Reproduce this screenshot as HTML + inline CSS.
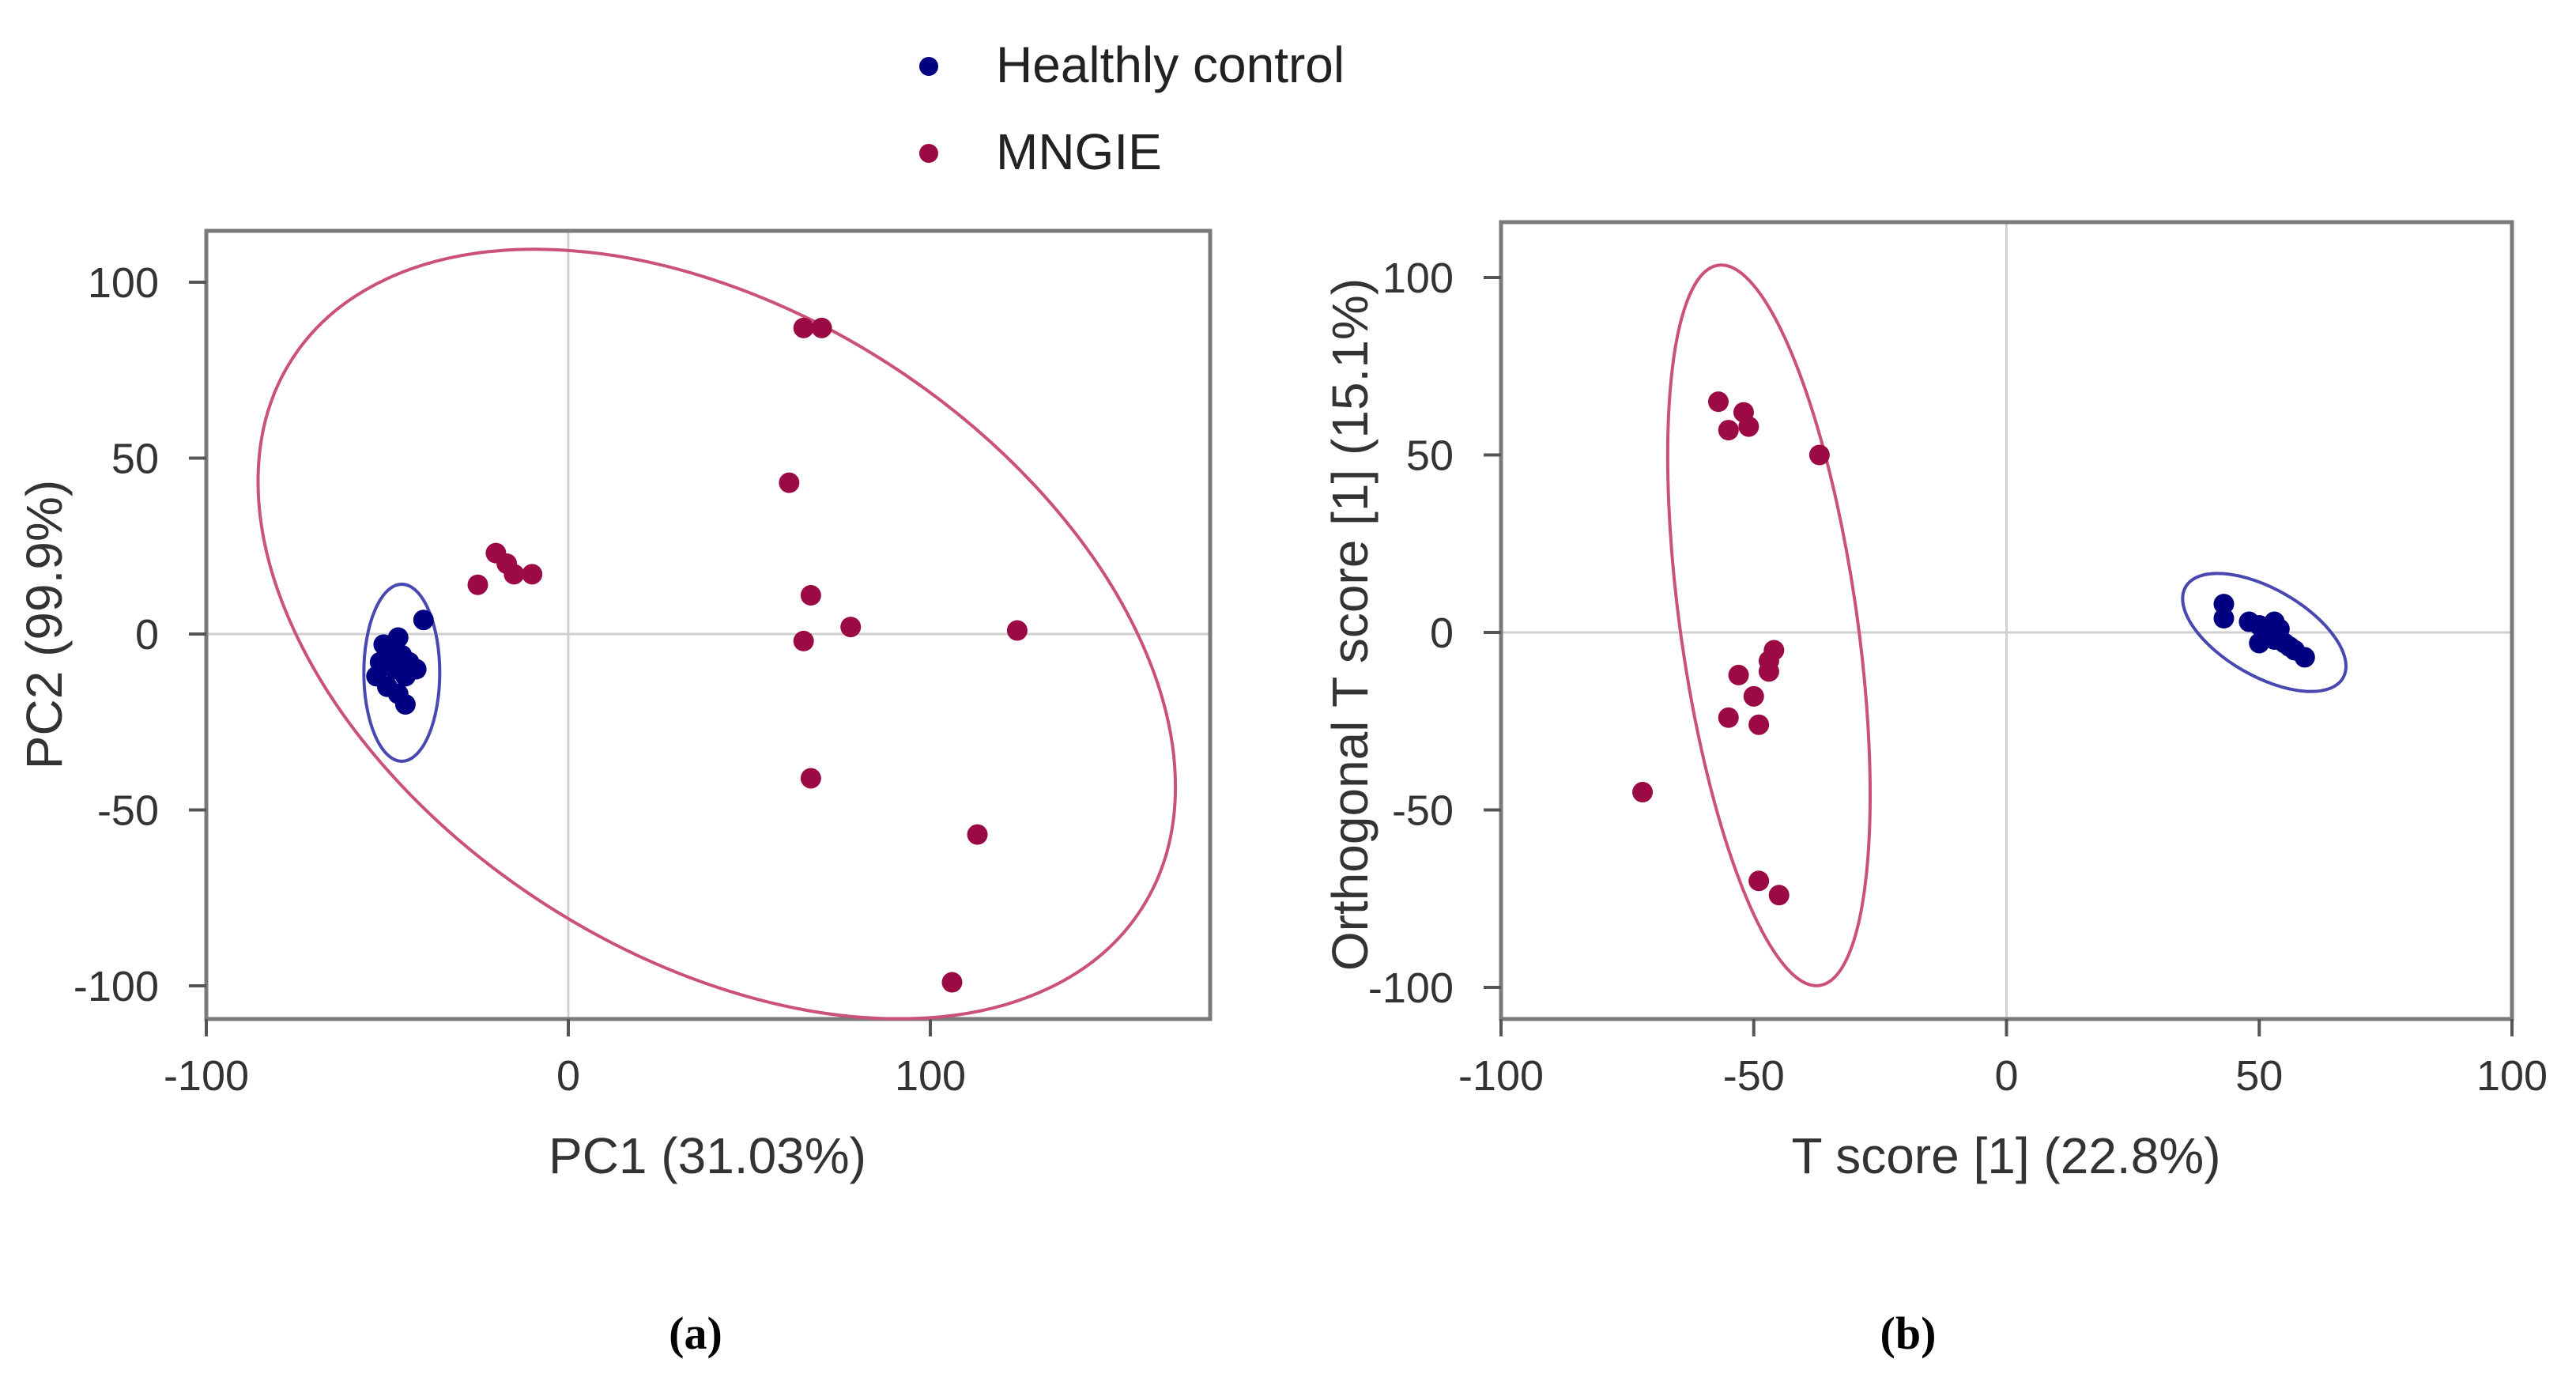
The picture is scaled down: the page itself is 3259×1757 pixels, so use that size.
<!DOCTYPE html>
<html><head><meta charset="utf-8">
<style>
html,body{margin:0;padding:0;background:#fff;}
svg{display:block;font-family:"Liberation Sans",Arial,sans-serif;}
</style></head>
<body>
<svg id="fig" width="3259" height="1757" viewBox="0 0 3259 1757" xmlns="http://www.w3.org/2000/svg">
  <g>
    <circle cx="1175" cy="84" r="12" fill="#000080"/>
    <text x="1260" y="104" font-size="64" fill="#222">Healthly control</text>
    <circle cx="1175" cy="194" r="12" fill="#9b0a44"/>
    <text x="1260" y="214" font-size="64" fill="#222">MNGIE</text>
  </g>
  <g id="panelA"></g>
  <g id="panelB"></g>
  <text x="880" y="1706" font-size="58" font-weight="bold" font-family="Liberation Serif,serif" text-anchor="middle">(a)</text>
  <text x="2414" y="1706" font-size="58" font-weight="bold" font-family="Liberation Serif,serif" text-anchor="middle">(b)</text>
</svg>
<script>
// Panel A data (PC1, PC2)
const aTicksX = [-100, 0, 100];
const aTicksY = [100, 50, 0, -50, -100];
const aMngieX = [65, 70, 61, -20, -17, -15, -25, -10, 67, 78, 65, 124, 67, 113, 106];
const aMngieY = [87, 87, 43, 23, 20, 17, 14, 17, 11, 2, -2, 1, -41, -57, -99];
const aHealthyX = [-40, -47, -50, -52, -48, -45, -42, -53, -50, -47, -45, -49, -44, -51, -46];
const aHealthyY = [4, -1, -5, -8, -10, -12, -10, -12, -15, -17, -20, -7, -8, -3, -6];
// Panel B data (T score, orthogonal T score)
const bTicksX = [-100, -50, 0, 50, 100];
const bTicksY = [100, 50, 0, -50, -100];
const bMngieX = [-57, -52, -51, -55, -37, -46, -47, -47, -53, -50, -49, -55, -72, -49, -45];
const bMngieY = [65, 62, 58, 57, 50, -5, -8, -11, -12, -18, -26, -24, -45, -70, -74];
const bHealthyX = [43, 43, 48, 50, 52, 53, 55, 57, 59, 50, 54, 56, 51, 53];
const bHealthyY = [8, 4, 3, 2, 0, -2, -3, -5, -7, -3, 1, -4, -1, 3];

const NS = 'http://www.w3.org/2000/svg';
function mk(parent, tag, attrs, text) {
  const e = document.createElementNS(NS, tag);
  for (const k in attrs) e.setAttribute(k, attrs[k]);
  if (text !== undefined) e.textContent = text;
  parent.appendChild(e);
  return e;
}
function lin(d0, d1, r0, r1) { return v => r0 + (v - d0) * (r1 - r0) / (d1 - d0); }

function panel(g, cfg) {
  const sx = lin(cfg.dx[0], cfg.dx[1], cfg.rx[0], cfg.rx[1]);
  const sy = lin(cfg.dy[0], cfg.dy[1], cfg.ry[0], cfg.ry[1]);
  const b = cfg.box;
  const gx = mk(g, 'line', {x1: sx(0), x2: sx(0), y1: b[1], y2: b[3], stroke: '#d0d0d0', 'stroke-width': 3});
  
  
  const gy = mk(g, 'line', {x1: b[0], x2: b[2], y1: sy(0), y2: sy(0), stroke: '#d0d0d0', 'stroke-width': 3});
  
  
  const fr = mk(g, 'rect', {x: b[0], y: b[1], width: b[2] - b[0], height: b[3] - b[1], fill: 'none', stroke: '#7a7a7a', 'stroke-width': 5});
  
  
  cfg.tx.forEach(v => {
    const t = mk(g, 'line', {x1: sx(v), x2: sx(v), y1: b[3], y2: b[3] + 22, stroke: '#555', 'stroke-width': 4});
    
    
    const l = mk(g, 'text', {x: sx(v), y: b[3] + 90, 'font-size': 54, fill: '#333', 'text-anchor': 'middle'}, String(v));
    
    
  });
  cfg.ty.forEach(v => {
    const t = mk(g, 'line', {x1: b[0] - 22, x2: b[0], y1: sy(v), y2: sy(v), stroke: '#555', 'stroke-width': 4});
    
    
    const l = mk(g, 'text', {x: b[0] - 60, y: sy(v) + 19, 'font-size': 54, fill: '#333', 'text-anchor': 'end'}, String(v));
    
    
  });
  cfg.ell.forEach(e => {
    const el = mk(g, 'ellipse', {cx: sx(e.x), cy: sy(e.y), rx: e.rx, ry: e.ry, fill: 'none', stroke: e.c, 'stroke-width': 4,
      transform: 'rotate(' + e.a + ' ' + sx(e.x) + ' ' + sy(e.y) + ')'});
    
    
  });
  cfg.series.forEach(s => {
    s.x.forEach((v, i) => {
      const p = mk(g, 'circle', {cx: sx(v), cy: sy(s.y[i]), r: 13, fill: s.c});
      
      
    });
  });
  const xt = mk(g, 'text', {x: cfg.xtx, y: b[3] + 195, 'font-size': 64, fill: '#333', 'text-anchor': 'middle'}, cfg.xt);
  
  
  const yx = cfg.ytx, yy = cfg.yty;
  const yt = mk(g, 'text', {x: yx, y: yy, 'font-size': 64, fill: '#333', 'text-anchor': 'middle', transform: 'rotate(-90 ' + yx + ' ' + yy + ')'}, cfg.yt);
  
  
}

panel(document.getElementById('panelA'), {
  dx: [-100, 100], rx: [261, 1177], dy: [100, -100], ry: [357, 1247],
  box: [261, 292, 1531, 1289], tx: aTicksX, ty: aTicksY,
  ell: [
    {x: 41, y: 0, rx: 640, ry: 405, a: 33, c: '#c9517a', n: 'mngie-confidence-ellipse'},
    {x: -46, y: -11, rx: 48, ry: 112, a: 0, c: '#4848b0', n: 'healthy-confidence-ellipse'}
  ],
  series: [
    {x: aMngieX, y: aMngieY, c: '#9b0a44', n: 'mngie-point'},
    {x: aHealthyX, y: aHealthyY, c: '#000080', n: 'healthy-point'}
  ],
  xt: 'PC1 (31.03%)', xtx: 895, yt: 'PC2 (99.9%)', ytx: 78, yty: 790
});

panel(document.getElementById('panelB'), {
  dx: [-100, 100], rx: [1899, 3178], dy: [100, -100], ry: [351, 1249],
  box: [1899, 281, 3178, 1289], tx: bTicksX, ty: bTicksY,
  ell: [
    {x: -47, y: 2, rx: 112, ry: 460, a: -8, c: '#c9517a', n: 'mngie-confidence-ellipse'},
    {x: 51, y: 0, rx: 115, ry: 55, a: 30, c: '#4848b0', n: 'healthy-confidence-ellipse'}
  ],
  series: [
    {x: bMngieX, y: bMngieY, c: '#9b0a44', n: 'mngie-point'},
    {x: bHealthyX, y: bHealthyY, c: '#000080', n: 'healthy-point'}
  ],
  xt: 'T score [1] (22.8%)', xtx: 2538, yt: 'Orthogonal T score [1] (15.1%)', ytx: 1730, yty: 790
});
</script>
</body></html>
